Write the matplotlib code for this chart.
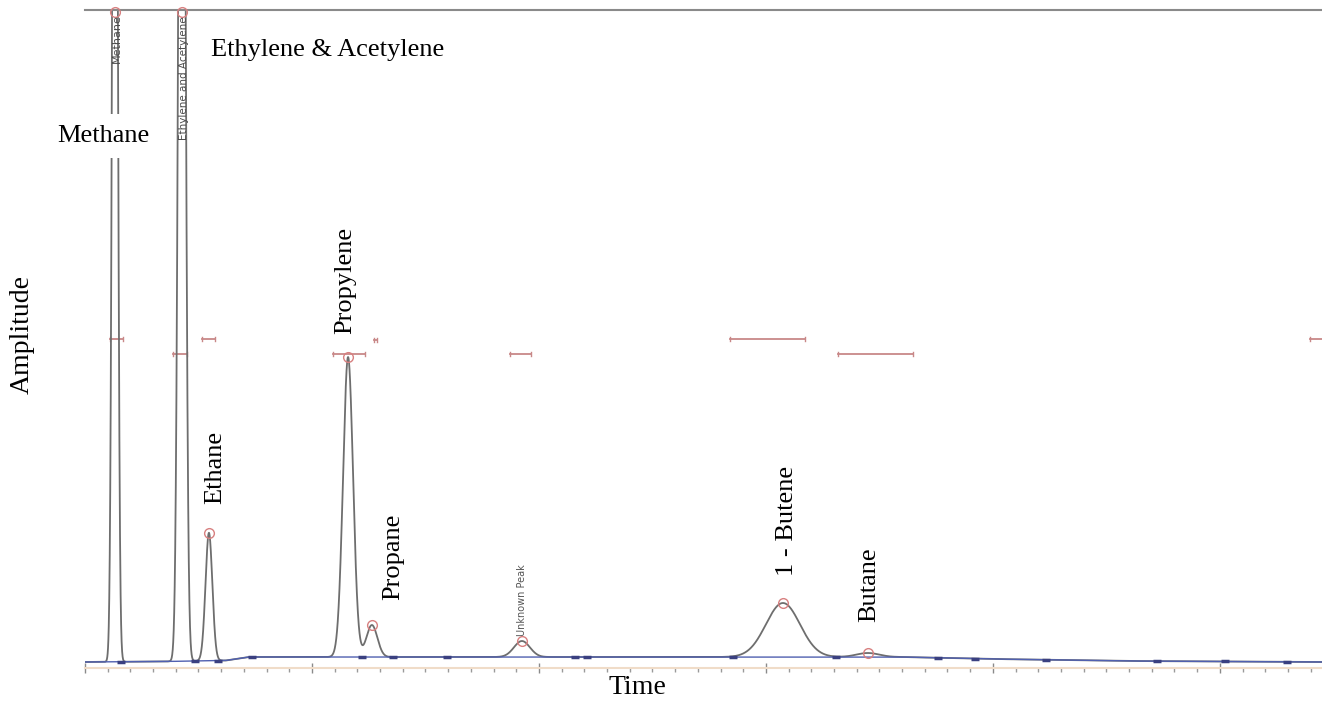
import numpy as np
import matplotlib
matplotlib.use("Agg")
import matplotlib.pyplot as plt
from matplotlib.ticker import MultipleLocator

# Peak table: retention time (min), height above baseline, width (sigma, min)
peak_names = ["Methane", "Ethylene & Acetylene", "Ethane", "Propylene",
              "Propane", "Unknown Peak", "1 - Butene", "Butane"]
peak_time = [0.132, 0.427, 0.546, 1.159, 1.264, 1.925, 3.075, 3.449]
peak_height = [1500, 1500, 128, 300, 32, 16, 54, 4]
peak_sigma = [0.010, 0.013, 0.015, 0.022, 0.024, 0.035, 0.075, 0.05]

# Baseline drift points
base_time = [0.0, 0.35, 0.62, 0.72, 2.0, 3.6, 4.0, 4.6, 5.45]
base_level = [-2, -1.5, -0.5, 3, 3, 3, 1, -1, -2]

# Peak window bars (start, end, level)
win_start = [0.110, 0.388, 0.515, 1.093, 1.273, 1.872, 2.841, 3.317, 5.396]
win_end = [0.167, 0.449, 0.573, 1.233, 1.286, 1.965, 3.172, 3.648, 5.50]
win_level = [321, 306, 321, 306, 320, 306, 321, 306, 321]

# Integration start/stop marks
mark_time = [0.159, 0.485, 0.586, 0.736, 1.220, 1.357, 1.595, 2.159, 2.212,
             2.855, 3.308, 3.758, 3.921, 4.233, 4.722, 5.022, 5.295]

t = np.linspace(0, 5.45, 10000)
base = np.interp(t, base_time, base_level)
signal = base.copy()
for tp, h, s in zip(peak_time, peak_height, peak_sigma):
    signal += h * np.exp(-0.5 * ((t - tp) / s) ** 2)

W, H = 1322, 702
fig = plt.figure(figsize=(W / 100, H / 100), dpi=100)
ax = fig.add_axes([85 / W, 1 - 668 / H, 1 - 85 / W, (668 - 10) / H])
ax.set_xlim(0, 5.45)
ax.set_ylim(-8, 650)

ax.plot(t, signal, color="#6e6e6e", lw=1.3, zorder=2)
ax.plot(t, base, color="#5060b0", lw=1.0, zorder=3)
ax.plot(mark_time, np.interp(mark_time, base_time, base_level), ls="none",
        marker="_", ms=6, mew=2.5, color="#3a4080", zorder=4)

# peak apex circles
apex = [min(h + np.interp(tp, base_time, base_level), 648)
        for tp, h in zip(peak_time, peak_height)]
ax.plot(peak_time, apex, ls="none", marker="o", ms=7, mfc="none",
        mec="#d88080", mew=1.0, zorder=5, clip_on=False)

# window bars
for a, b, lv in zip(win_start, win_end, win_level):
    ax.plot([a, b], [lv, lv], color="#c88888", lw=1.3, zorder=1)
    ax.plot([a, a], [lv - 2, lv + 2], color="#c88888", lw=1.0, zorder=1)
    ax.plot([b, b], [lv - 2, lv + 2], color="#c88888", lw=1.0, zorder=1)

serif = "Liberation Serif"
box = dict(facecolor="white", edgecolor="none", pad=3)
fs = 19
ax.text(0.079, 524, "Methane", family=serif, fontsize=fs, ha="center",
        va="center", bbox=dict(facecolor="white", edgecolor="none", pad=8),
        zorder=6)
ax.text(0.555, 610, "Ethylene & Acetylene", family=serif, fontsize=fs,
        ha="left", va="center", zorder=6)
ax.text(0.573, 193, "Ethane", family=serif, fontsize=fs, rotation=90,
        ha="center", va="center", bbox=box, zorder=6)
ax.text(1.145, 380, "Propylene", family=serif, fontsize=fs, rotation=90,
        ha="center", va="center", bbox=box, zorder=6)
ax.text(1.357, 103, "Propane", family=serif, fontsize=fs, rotation=90,
        ha="center", va="center", bbox=box, zorder=6)
ax.text(3.093, 139, "1 - Butene", family=serif, fontsize=fs, rotation=90,
        ha="center", va="center", bbox=box, zorder=6)
ax.text(3.454, 75, "Butane", family=serif, fontsize=fs, rotation=90,
        ha="center", va="center", bbox=box, zorder=6)

# small instrument labels
ax.text(1.925, 60, "Unknown Peak", fontsize=7, rotation=90, color="#555555",
        ha="center", va="center", zorder=6)
ax.text(0.141, 621, "Methane", fontsize=8, rotation=90, color="#4a4a4a",
        ha="center", va="center", zorder=6)
ax.text(0.436, 582, "Ethylene and Acetylene", fontsize=7.5, rotation=90,
        color="#4a4a4a", ha="center", va="center", zorder=6)

fig.text(22 / W, 1 - 335 / H, "Amplitude", family=serif, fontsize=20,
         rotation=90, ha="center", va="center")
fig.text(637 / W, 1 - 688 / H, "Time", family=serif, fontsize=20,
         ha="center", va="center")

for side in ["left", "right"]:
    ax.spines[side].set_visible(False)
ax.spines["top"].set_color("#8a8a8a")
ax.spines["top"].set_linewidth(1.5)
ax.spines["bottom"].set_color("#f0dcc8")
ax.spines["bottom"].set_linewidth(1.5)

ax.xaxis.set_major_locator(MultipleLocator(1))
ax.xaxis.set_minor_locator(MultipleLocator(0.1))
ax.tick_params(axis="x", which="major", length=7, width=1, color="#8a8a8a",
               direction="inout", labelbottom=False)
ax.tick_params(axis="x", which="minor", length=3, width=1, color="#9a9a9a",
               direction="out")
ax.set_yticks([])

fig.savefig("out.png", dpi=100)
